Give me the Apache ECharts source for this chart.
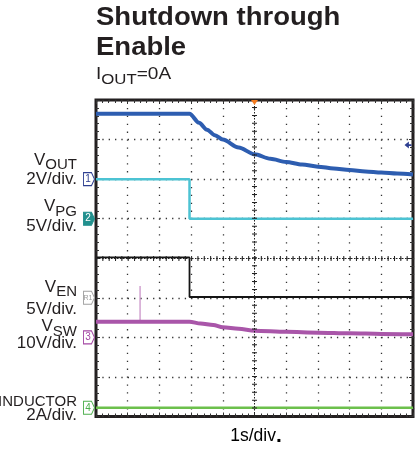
<!DOCTYPE html>
<html><head><meta charset="utf-8">
<script src="https://cdn.jsdelivr.net/npm/echarts@6/dist/echarts.min.js"></script>
<style>html,body{margin:0;padding:0;background:#fff}#c{width:420px;height:451px}</style>
</head><body><div id="c"></div>
<script>
// ---------------- data (read from the scope shot) ----------------
// time axis: 1 s/div, 10 divisions
const timeRange = [0, 10];
// channel setup: units per division and ground level (divisions from bottom of screen)
const chTags = ['1', '2', 'R1', '3', '4'];
const chScale = [2, 5, 5, 10, 2];
const chGround = [6, 5, 3, 2, 0.22];

// CH1 VOUT (V)
const voutT = [0, 1, 2, 2.95, 3.25, 3.5, 3.75, 4.0, 4.5, 5.0, 5.5, 6.0, 6.5, 7.0, 7.5, 8.0, 8.5, 9.0, 9.5, 10];
const voutV = [3.3, 3.3, 3.3, 3.3, 2.85, 2.5, 2.22, 2.0, 1.6, 1.26, 1.03, 0.87, 0.74, 0.63, 0.54, 0.46, 0.39, 0.33, 0.28, 0.23];
// CH2 VPG (V)
const vpgT = [0, 2.95, 2.95, 10];
const vpgV = [5, 5, 0, 0];
// VEN (V)
const venT = [0, 2.95, 2.95, 10];
const venV = [5.1, 5.1, 0.1, 0.1];
// CH3 VSW (V)
const vswT = [0, 2.95, 3.3, 3.7, 4.0, 4.5, 5.0, 6.0, 7.0, 8.0, 9.0, 10];
const vswV = [3.95, 3.95, 3.5, 3.1, 2.55, 2.15, 1.7, 1.4, 1.2, 1.02, 0.88, 0.78];
const vswSpikeT = [1.39, 1.39];
const vswSpikeV = [3.95, 13];
// CH4 inductor current (A)
const ilT = [0, 10];
const ilV = [0, 0];
// trigger level on CH1 (V) and trigger time (s)
const trigLevel = 1.72;
const trigTime = 5;

// labels
const chLabelMain = ['V', 'V', 'V', 'V', 'I'];
const chLabelSub = ['OUT', 'PG', 'EN', 'SW', 'INDUCTOR'];
const chLabelScale = ['2V/div.', '5V/div.', '5V/div.', '10V/div.', '2A/div.'];
const titleLines = ['Shutdown through', 'Enable'];
const condMain = 'I', condSub = 'OUT', condRest = '=0A';
const xAxisName = '1s/div';

// ---------------- helpers ----------------
function toDiv(ts, vs, ch) { return ts.map((t, i) => [t, chGround[ch] + vs[i] / chScale[ch]]); }
const FONT = 'Liberation Sans';
const TXT = '#231f20';
const mctx = document.createElement('canvas').getContext('2d');
function tw(txt, size, weight) { mctx.font = (weight || 'normal') + ' ' + size + 'px "' + FONT + '"'; return mctx.measureText(txt).width; }

const tagPath = 'path://M0,0 L8,0 L11,6.5 L8,13 L0,13 Z';
const tagStyles = [
  { fill: '#ffffff', stroke: '#2e3f91', text: '#2e3f91', fs: 10 },
  { fill: '#22908e', stroke: '#22908e', text: '#ffffff', fs: 10 },
  { fill: '#ffffff', stroke: '#a0a0a0', text: '#9a9a9a', fs: 7 },
  { fill: '#ffffff', stroke: '#a346a3', text: '#a346a3', fs: 10 },
  { fill: '#ffffff', stroke: '#4cae4c', text: '#4cae4c', fs: 10 }
];
function tagPoint(ch) {
  const s = tagStyles[ch];
  return {
    coord: [timeRange[0], chGround[ch]], symbol: tagPath, symbolSize: [11, 13], symbolOffset: [-7, 0],
    itemStyle: { color: s.fill, borderColor: s.stroke, borderWidth: 1 },
    label: { show: true, position: 'inside', formatter: chTags[ch], color: s.text, fontSize: s.fs, fontFamily: FONT, offset: [-1, 0] }
  };
}
function mp(points) { return { silent: true, animation: false, data: points }; }

const tickStyle = { color: '#333', width: 1 };
function frameAxis(extra) {
  return Object.assign({
    type: 'value', axisLine: { show: false, onZero: false }, axisLabel: { show: false },
    axisTick: { show: true, inside: true, length: 4, lineStyle: tickStyle },
    minorTick: { show: true, splitNumber: 5, length: 3, lineStyle: tickStyle },
    splitLine: { show: false }
  }, extra);
}

function txt(x, y, text, size, opts) {
  opts = opts || {};
  return { type: 'text', x: x, y: y, scaleX: opts.scaleX || 1, silent: true,
    style: { text: text, fontSize: size, fontWeight: opts.weight || 'normal', fontFamily: FONT, fill: opts.fill || TXT,
      align: opts.align || 'left', verticalAlign: 'middle' } };
}

const line1Y = [160, 206.7, 287, 326.7, 397];
const subDy = 5.3;
const line2Y = [179, 226, 309.7, 343, 415.5];
const MAIN = 17, SUB = 15;
const graphics = [
  txt(96, 18.5, titleLines[0], 25, { weight: 'bold', scaleX: 1.1 }),
  txt(96, 48, titleLines[1], 25, { weight: 'bold', scaleX: 1.1 })
];
// I_OUT=0A
(function () {
  const sx = 1.12, m = 17, s = 15;
  const x0 = 96, x1 = x0 + tw(condMain, m) * sx, x2 = x1 + tw(condSub, s) * sx;
  graphics.push(txt(x0, 74, condMain, m, { scaleX: sx }));
  graphics.push(txt(x1, 80.3, condSub, s, { scaleX: sx }));
  graphics.push(txt(x2, 74, condRest, m, { scaleX: sx }));
})();
// x axis caption
graphics.push({ type: 'text', x: 256, y: 436, silent: true, style: { text: '{a|' + xAxisName + '}{b|.}', align: 'center', verticalAlign: 'middle',
  rich: { a: { fontSize: 17.5, fontFamily: FONT, color: TXT, lineHeight: 20 }, b: { fontSize: 21, fontWeight: 'bold', fontFamily: FONT, color: '#000', lineHeight: 20 } } } });
// channel labels
for (let i = 0; i < chLabelMain.length; i++) {
  const right = 77;
  graphics.push(txt(right, line1Y[i] + subDy, chLabelSub[i], SUB, { align: 'right' }));
  graphics.push(txt(right - tw(chLabelSub[i], SUB), line1Y[i], chLabelMain[i], MAIN, { align: 'right' }));
  graphics.push(txt(right, line2Y[i], chLabelScale[i], MAIN, { align: 'right' }));
}

const chart = echarts.init(document.getElementById('c'), null, { renderer: 'canvas' });
chart.setOption({
  animation: false,
  backgroundColor: '#ffffff',
  grid: { left: 96, top: 100, width: 317, height: 316.5, show: true, borderColor: '#231f20', borderWidth: 3, containLabel: false },
  xAxis: [
    frameAxis({ min: timeRange[0], max: timeRange[1], interval: 1, position: 'bottom',
      splitLine: { show: true, lineStyle: { color: '#333', width: 1.3, type: [1.3, 6.6] } } }),
    frameAxis({ min: timeRange[0], max: timeRange[1], interval: 1, position: 'top' })
  ],
  yAxis: [
    frameAxis({ min: 0, max: 8, interval: 1, position: 'left',
      splitLine: { show: true, lineStyle: { color: '#333', width: 1.3, type: [1.3, 5.04] } } }),
    frameAxis({ min: 0, max: 8, interval: 1, position: 'right' })
  ],
  graphic: graphics,
  series: [
    { name: 'VOUT', type: 'line', data: toDiv(voutT, voutV, 0), smooth: 0.3, smoothMonotone: 'x', showSymbol: false, z: 4,
      lineStyle: { color: '#2d5db0', width: 4 },
      markPoint: mp([
        tagPoint(0),
        { coord: [timeRange[1], chGround[0] + trigLevel / chScale[0]], symbol: 'path://M0,4 L5,0 L5,3 L8,3 L8,5 L5,5 L5,8 Z', symbolSize: [7, 7], symbolOffset: [-5, 0], itemStyle: { color: '#2e3f91' }, label: { show: false } },
        { coord: [trigTime, 8], symbol: 'path://M0,0 L8,0 L4,6 Z', symbolSize: [7, 5], symbolOffset: [0, 2.5], itemStyle: { color: '#f47c20' }, label: { show: false } }
      ]) },
    { name: 'VPG', type: 'line', data: toDiv(vpgT, vpgV, 1), showSymbol: false, z: 4,
      lineStyle: { color: '#4cc3d3', width: 2.5 }, markPoint: mp([tagPoint(1)]) },
    { name: 'VEN', type: 'line', data: toDiv(venT, venV, 2), showSymbol: false, z: 4,
      lineStyle: { color: '#151515', width: 1.8 }, markPoint: mp([tagPoint(2)]) },
    { name: 'VSW', type: 'line', data: toDiv(vswT, vswV, 3), smooth: 0.3, smoothMonotone: 'x', showSymbol: false, z: 4,
      lineStyle: { color: '#a956a9', width: 4 }, markPoint: mp([tagPoint(3)]) },
    { name: 'VSW spike', type: 'line', data: toDiv(vswSpikeT, vswSpikeV, 3), showSymbol: false, z: 3,
      lineStyle: { color: '#c68ac4', width: 1.2 } },
    { name: 'IL', type: 'line', data: toDiv(ilT, ilV, 4), showSymbol: false, z: 4,
      lineStyle: { color: '#6cc04c', width: 2.5 }, markPoint: mp([tagPoint(4)]),
      markLine: { silent: true, animation: false, symbol: ['none', 'none'], label: { show: false },
        data: [
          { xAxis: trigTime, lineStyle: { color: '#222', width: 1, type: [1.5, 1.5] } },
          { xAxis: trigTime, lineStyle: { color: '#222', width: 5, type: [1, 6.91] } },
          { yAxis: 4, lineStyle: { color: '#222', width: 1, type: [1.5, 1.5] } },
          { yAxis: 4, lineStyle: { color: '#222', width: 5, type: [1, 5.34] } }
        ] } }
  ]
});
</script></body></html>
